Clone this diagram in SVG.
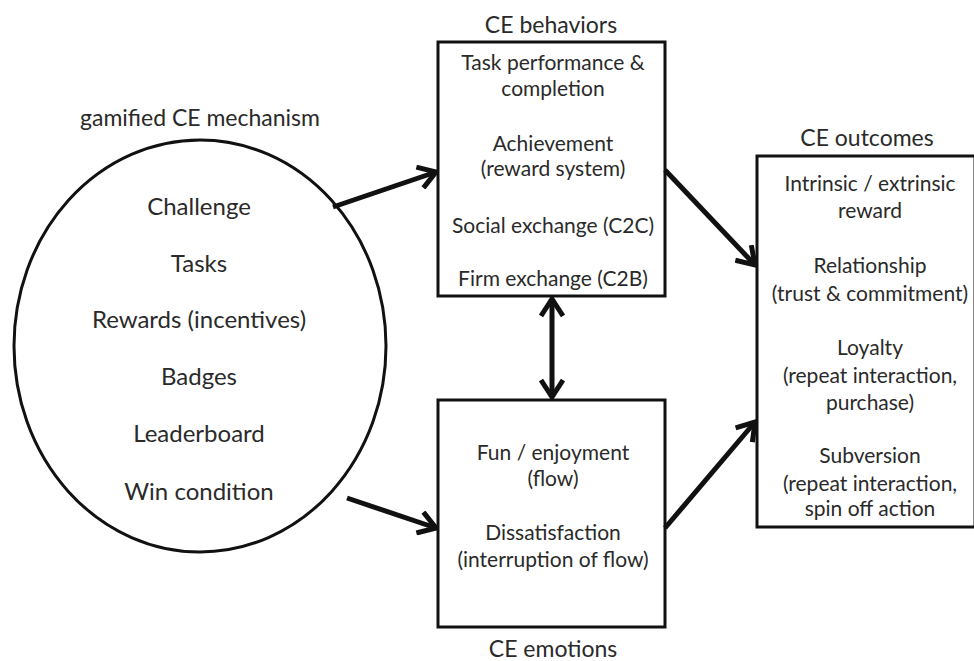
<svg xmlns="http://www.w3.org/2000/svg" width="974" height="661" viewBox="0 0 974 661">
<style>
text{font-family:Lato,"Open Sans","DejaVu Sans",sans-serif;font-size:21px;fill:#2a2a2a;text-anchor:middle}
.title{font-size:23px}
.big{font-size:24px}
.shape{fill:#fff;stroke:#111;stroke-width:3}
.conn{fill:none;stroke:#111;stroke-width:5}
</style>
<defs>
<marker id="ah" viewBox="0 0 22 26" refX="19" refY="13" markerWidth="22" markerHeight="26" markerUnits="userSpaceOnUse" orient="auto-start-reverse">
<path d="M2,2 L19,13 L2,24" fill="none" stroke="#111" stroke-width="5" stroke-linejoin="miter"/>
</marker>
</defs>
<rect width="974" height="661" fill="#fff"/>
<g id="mechanism">
<ellipse class="shape" cx="200" cy="346" rx="186" ry="206" stroke-width="2.5"/>
<text class="title" x="200" y="126">gamified CE mechanism</text>
<text class="big" x="199" y="215">Challenge</text>
<text class="big" x="199" y="272">Tasks</text>
<text class="big" x="199" y="328">Rewards (incentives)</text>
<text class="big" x="199" y="385">Badges</text>
<text class="big" x="199" y="442">Leaderboard</text>
<text class="big" x="199" y="500">Win condition</text>
</g>
<g id="behaviors">
<rect class="shape" x="438" y="42" width="227" height="254"/>
<text class="title" x="551" y="33">CE behaviors</text>
<text x="553" y="70">Task performance &amp;</text>
<text x="553" y="96">completion</text>
<text x="553" y="151">Achievement</text>
<text x="553" y="176">(reward system)</text>
<text x="553" y="233">Social exchange (C2C)</text>
<text x="553" y="286">Firm exchange (C2B)</text>
</g>
<g id="emotions">
<rect class="shape" x="438" y="400" width="227" height="227"/>
<text x="553" y="460">Fun / enjoyment</text>
<text x="553" y="486">(flow)</text>
<text x="553" y="540">Dissatisfaction</text>
<text x="553" y="567">(interruption of flow)</text>
<text class="title" x="553" y="657">CE emotions</text>
</g>
<g id="outcomes">
<rect class="shape" x="757" y="156" width="218" height="371"/>
<text class="title" x="867" y="146">CE outcomes</text>
<text x="870" y="191">Intrinsic / extrinsic</text>
<text x="870" y="218">reward</text>
<text x="870" y="273">Relationship</text>
<text x="870" y="301">(trust &amp; commitment)</text>
<text x="870" y="355">Loyalty</text>
<text x="870" y="383">(repeat interaction,</text>
<text x="870" y="410">purchase)</text>
<text x="870" y="463">Subversion</text>
<text x="870" y="491">(repeat interaction,</text>
<text x="870" y="516">spin off action</text>
</g>
<g id="connectors">
<line class="conn" x1="333" y1="207" x2="436" y2="172" marker-end="url(#ah)"/>
<line class="conn" x1="347" y1="498" x2="436" y2="528" marker-end="url(#ah)"/>
<line class="conn" x1="552" y1="299" x2="552" y2="397" marker-start="url(#ah)" marker-end="url(#ah)"/>
<line class="conn" x1="665" y1="170" x2="755" y2="265" marker-end="url(#ah)"/>
<line class="conn" x1="665" y1="528" x2="755" y2="422" marker-end="url(#ah)"/>
</g>
</svg>
